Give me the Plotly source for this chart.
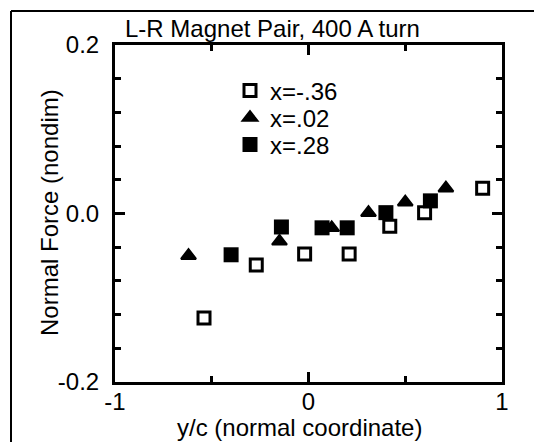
import plotly.graph_objects as go

# ---- data ----
open_yc = [-0.54, -0.27, -0.02, 0.21, 0.42, 0.60, 0.90]
open_force = [-0.124, -0.061, -0.048, -0.048, -0.015, 0.001, 0.030]

tri_yc = [-0.62, -0.15, 0.12, 0.31, 0.50, 0.71]
tri_force = [-0.050, -0.033, -0.017, 0.001, 0.0135, 0.030]

fill_yc = [-0.40, -0.14, 0.07, 0.20, 0.40, 0.63]
fill_force = [-0.049, -0.016, -0.017, -0.017, 0.001, 0.015]

series_names = ["x=-.36", "x=.02", "x=.28"]

x_tickvals = [-1, 0, 1]
x_ticktext = ["-1", "0", "1"]
y_tickvals = [-0.2, 0.0, 0.2]
y_ticktext = ["-0.2", "0.0", "0.2"]

FONT = "Liberation Sans, Arial, Helvetica, sans-serif"
FS = 24

# the page body adds an 8 px margin, so the figure is drawn 8 px smaller
OFF = 8
W, H = 542 - OFF, 442 - OFF

# plot area in page pixels (reference): x 115..502, y 45..382
L, R, T, B = 115 - OFF, 502 - OFF, 45 - OFF, 382 - OFF


def px(xp):
    return (xp - OFF - L) / (R - L)


def py(yp):
    return (B - (yp - OFF)) / (B - T)


fig = go.Figure()
fig.add_trace(go.Scatter(
    x=open_yc, y=open_force, mode="markers", name=series_names[0],
    legend="legend",
    marker=dict(symbol="square-open", size=12, color="black",
                line=dict(width=3, color="black"))))
fig.add_trace(go.Scatter(
    x=tri_yc, y=tri_force, mode="markers", name=series_names[1],
    legend="legend2",
    marker=dict(symbol="triangle-up", size=13, color="black",
                line=dict(width=2, color="black"))))
fig.add_trace(go.Scatter(
    x=fill_yc, y=fill_force, mode="markers", name=series_names[2],
    legend="legend3",
    marker=dict(symbol="square", size=15, color="black",
                line=dict(width=0))))

axis_common = dict(
    showgrid=False, zeroline=False, showline=True, linecolor="black",
    linewidth=3, mirror="ticks", ticks="inside", ticklen=10, tickwidth=3,
    tickcolor="black", tickmode="array",
    tickfont=dict(family=FONT, size=FS, color="black"),
)

fig.update_xaxes(
    range=[-1, 1], tickvals=x_tickvals, ticktext=x_ticktext,
    minor=dict(ticks="inside", ticklen=6, tickwidth=3, tickcolor="black",
               tickmode="linear", tick0=0, dtick=0.5),
    ticklabelstandoff=-4,
    **axis_common)
fig.update_yaxes(
    range=[-0.2, 0.2], tickvals=y_tickvals, ticktext=y_ticktext,
    minor=dict(ticks="inside", ticklen=6, tickwidth=3, tickcolor="black",
               tickmode="linear", tick0=0, dtick=0.04),
    ticklabelstandoff=8,
    **axis_common)


def legend_at(yc):
    return dict(x=px(230), y=py(yc), xanchor="left", yanchor="middle",
                bgcolor="rgba(0,0,0,0)", borderwidth=0,
                font=dict(family=FONT, size=FS, color="black"))


fig.update_layout(
    width=W, height=H,
    margin=dict(l=L, r=W - R, t=T, b=H - B, autoexpand=False),
    paper_bgcolor="white", plot_bgcolor="white",
    font=dict(family=FONT, size=FS, color="black"),
    showlegend=True,
    legend=legend_at(91),
    legend2=legend_at(118),
    legend3=legend_at(145),
    annotations=[
        dict(text="L-R Magnet Pair, 400 A turn", xref="paper", yref="paper",
             x=px(123), y=py(29), xanchor="left", yanchor="middle",
             showarrow=False, font=dict(family=FONT, size=FS, color="black")),
        dict(text="y/c (normal coordinate)", xref="paper", yref="paper",
             x=px(299), y=py(427), xanchor="center", yanchor="middle",
             showarrow=False, font=dict(family=FONT, size=FS, color="black")),
        dict(text="Normal Force (nondim)", xref="paper", yref="paper",
             x=px(49), y=py(213), xanchor="center", yanchor="middle",
             textangle=-90, showarrow=False,
             font=dict(family=FONT, size=FS, color="black")),
    ],
    shapes=[
        dict(type="line", xref="paper", yref="paper",
             x0=px(11), x1=px(540), y0=py(11), y1=py(11),
             line=dict(color="black", width=2)),
        dict(type="line", xref="paper", yref="paper",
             x0=px(11), x1=px(11), y0=py(11), y1=py(445),
             line=dict(color="black", width=2)),
    ],
)

fig.write_html("out.html")
